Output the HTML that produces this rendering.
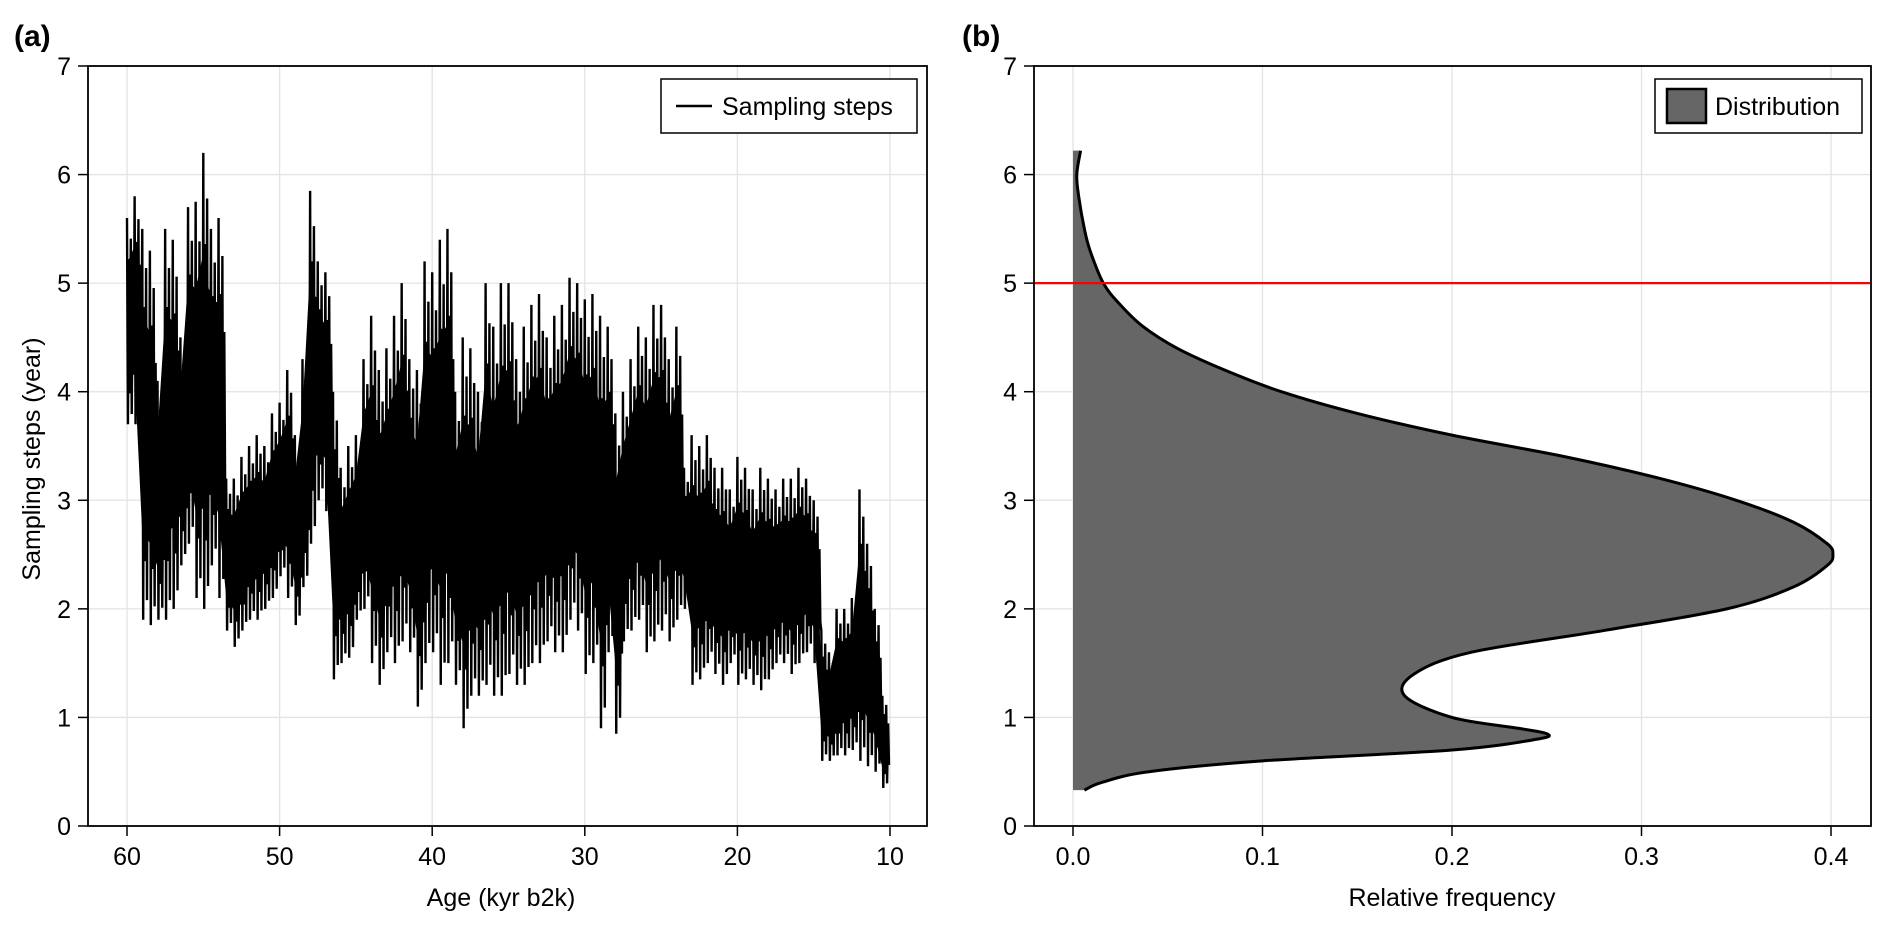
<!DOCTYPE html>
<html><head><meta charset="utf-8">
<style>
html,body{margin:0;padding:0;background:#fff;}
svg{display:block;font-family:"Liberation Sans",sans-serif;}
</style></head>
<body>
<svg id="fig" width="1892" height="928" viewBox="0 0 1892 928" xmlns="http://www.w3.org/2000/svg"></svg>
<script>
// ---- data: panel (a) ----
const ages = [60,59.5,59,58.5,58,57.5,57,56.5,56,55.5,55,54.5,54,53.5,53,52.5,52,51.5,51,50.5,50,49.5,49,48.5,48,47.5,47,46.5,46,45.5,45,44.5,44,43.5,43,42.5,42,41.5,41,40.5,40,39.5,39,38.5,38,37.5,37,36.5,36,35.5,35,34.5,34,33.5,33,32.5,32,31.5,31,30.5,30,29.5,29,28.5,28,27.5,27,26.5,26,25.5,25,24.5,24,23.5,23,22.5,22,21.5,21,20.5,20,19.5,19,18.5,18,17.5,17,16.5,16,15.5,15,14.5,14,13.5,13,12.5,12,11.5,11,10.5];
const hiVals = [5.6,5.8,5.5,5.3,4.1,5.5,5.4,4.5,5.7,5.75,6.2,5.5,5.6,3.2,3.2,3.4,3.5,3.6,3.5,3.8,3.9,4.2,3.6,4.3,5.85,5.2,5.1,4.0,3.3,3.5,3.6,4.3,4.7,4.2,4.4,4.7,5.0,4.3,4.2,5.2,5.1,5.4,5.5,4.0,4.5,4.4,4.0,5.0,4.6,5.0,5.0,4.3,4.6,4.8,4.9,4.5,4.7,4.8,5.05,5.0,4.85,4.9,4.7,4.6,3.8,4.0,4.3,4.6,4.5,4.8,4.8,4.3,4.6,3.3,3.6,3.5,3.6,3.3,3.3,3.1,3.4,3.3,3.1,3.3,3.2,3.1,3.2,3.2,3.3,3.2,3.0,1.8,1.6,2.0,2.0,2.1,3.1,2.6,2.0,1.2];
const loVals = [3.7,3.7,1.9,1.85,1.9,1.9,2.0,2.4,2.6,2.1,2.0,2.4,2.1,1.8,1.65,1.8,1.9,1.9,2.0,2.1,2.3,2.1,1.85,2.2,2.6,3.0,2.9,1.35,1.5,1.55,1.9,2.0,1.5,1.3,1.6,1.5,1.7,1.6,1.1,1.5,1.6,1.3,1.5,1.3,0.9,1.2,1.2,1.3,1.2,1.2,1.4,1.3,1.3,1.5,1.5,1.7,1.6,1.6,1.9,1.8,1.4,1.5,0.9,1.6,0.85,1.7,1.8,1.9,1.6,1.7,1.8,1.7,1.9,2.0,1.3,1.35,1.5,1.4,1.3,1.5,1.3,1.35,1.3,1.25,1.35,1.5,1.5,1.4,1.5,1.6,1.5,0.6,0.6,0.65,0.65,0.7,0.6,0.55,0.5,0.35];
const xTicksA = [60,50,40,30,20,10];
const yTicks = [0,1,2,3,4,5,6,7];
// ---- data: panel (b) ----
const kdeY = [6.22,6.0,5.8,5.5,5.3,5.0,4.8,4.6,4.4,4.2,4.0,3.8,3.6,3.4,3.2,3.0,2.8,2.6,2.5,2.4,2.2,2.0,1.8,1.6,1.4,1.2,1.0,0.9,0.85,0.8,0.7,0.6,0.5,0.4,0.33];
const kdeF = [0.004,0.002,0.003,0.006,0.009,0.016,0.025,0.037,0.055,0.08,0.11,0.15,0.2,0.26,0.31,0.35,0.38,0.398,0.401,0.398,0.38,0.345,0.28,0.21,0.18,0.175,0.2,0.235,0.25,0.245,0.2,0.1,0.04,0.015,0.006];
const xTicksB = [0.0,0.1,0.2,0.3,0.4];
const threshold = 5;

const NS="http://www.w3.org/2000/svg";
const svg=document.getElementById('fig');
function mk(tag,attrs,parent){const e=document.createElementNS(NS,tag);for(const k in attrs)e.setAttribute(k,attrs[k]);(parent||svg).appendChild(e);return e;}

const yTop=66, bot=826;
const yS = v => bot - v*(bot-yTop)/7;
const xA = a => 127 + (60-a)*(890-127)/50;
const xB = f => 1073 + f*(1831-1073)/0.4;
const AL=88, AR=927, BL=1034, BR=1871;
const FS=25;

// ---------- Panel A ----------
const gA=mk('g',{});


xTicksA.forEach(t=>{const l=mk('line',{x1:xA(t),x2:xA(t),y1:yTop,y2:bot,stroke:'#e3e3e3','stroke-width':1.3},gA);

});
yTicks.forEach(t=>{const l=mk('line',{x1:AL,x2:AR,y1:yS(t),y2:yS(t),stroke:'#e3e3e3','stroke-width':1.3},gA);

});
let up=[],dn=[];
for(let i=0;i<ages.length;i++){
  const m=(hiVals[i]+loVals[i])/2, r=hiVals[i]-loVals[i];
  up.push(xA(ages[i])+','+yS(m+r*0.28));
  dn.unshift(xA(ages[i])+','+yS(m-r*0.28));
}
const core=mk('polygon',{points:up.concat(dn).join(' '),fill:'#000'},gA);


let pts=[];
const fr=[[0,1],[0.12,0],[0.25,0.8],[0.37,0.15],[0.5,0.9],[0.62,0.05],[0.75,0.7],[0.87,0.25]];
for(let i=0;i<ages.length;i++){
  const step=(i<ages.length-1)?(ages[i]-ages[i+1]):0.5;
  fr.forEach(([f,k])=>{
    pts.push(xA(ages[i]-step*f)+','+yS(loVals[i]+(hiVals[i]-loVals[i])*k));
  });
}
const ser=mk('polyline',{points:pts.join(' '),fill:'none',stroke:'#000','stroke-width':2.4,'stroke-linejoin':'miter'},gA);


mk('rect',{x:AL,y:yTop,width:AR-AL,height:bot-yTop,fill:'none',stroke:'#000','stroke-width':1.8},gA);
xTicksA.forEach(t=>{mk('line',{x1:xA(t),x2:xA(t),y1:bot,y2:bot+10,stroke:'#000','stroke-width':1.5},gA);
const tx=mk('text',{x:xA(t),y:bot+39,'text-anchor':'middle','font-size':FS},gA);tx.textContent=t;

});
yTicks.forEach(t=>{mk('line',{x1:AL-10,x2:AL,y1:yS(t),y2:yS(t),stroke:'#000','stroke-width':1.5},gA);
const tx=mk('text',{x:AL-17,y:yS(t)+9,'text-anchor':'end','font-size':FS},gA);tx.textContent=t;

});
let t1=mk('text',{x:501,y:906,'text-anchor':'middle','font-size':FS},gA);t1.textContent='Age (kyr b2k)';


let t2=mk('text',{x:0,y:0,'text-anchor':'middle','font-size':FS,transform:'translate(40,459) rotate(-90)'},gA);t2.textContent='Sampling steps (year)';


let t3=mk('text',{x:14,y:46,'font-size':30,'font-weight':'bold'},gA);t3.textContent='(a)';


const legA=mk('g',{},gA);


mk('rect',{x:661,y:79,width:256,height:54,fill:'#fff',stroke:'#000','stroke-width':1.5},legA);
mk('line',{x1:676,x2:712,y1:106,y2:106,stroke:'#000','stroke-width':2.5},legA);
let t4=mk('text',{x:722,y:115,'font-size':FS},legA);t4.textContent='Sampling steps';

// ---------- Panel B ----------
const gB=mk('g',{});


xTicksB.forEach(t=>{const l=mk('line',{x1:xB(t),x2:xB(t),y1:yTop,y2:bot,stroke:'#e3e3e3','stroke-width':1.3},gB);

});
yTicks.forEach(t=>{const l=mk('line',{x1:BL,x2:BR,y1:yS(t),y2:yS(t),stroke:'#e3e3e3','stroke-width':1.3},gB);

});
const P=kdeY.map((y,i)=>[xB(kdeF[i]),yS(y)]);
let d='M'+P[0][0]+','+P[0][1];
for(let i=0;i<P.length-1;i++){
  const p0=P[Math.max(0,i-1)],p1=P[i],p2=P[i+1],p3=P[Math.min(P.length-1,i+2)];
  const c1=[p1[0]+(p2[0]-p0[0])/6,p1[1]+(p2[1]-p0[1])/6];
  const c2=[p2[0]-(p3[0]-p1[0])/6,p2[1]-(p3[1]-p1[1])/6];
  d+=' C'+c1[0]+','+c1[1]+' '+c2[0]+','+c2[1]+' '+p2[0]+','+p2[1];
}
const area=mk('path',{d:d+' L'+xB(0)+','+P[P.length-1][1]+' L'+xB(0)+','+P[0][1]+' Z',fill:'#666666',stroke:'none'},gB);


const curve=mk('path',{d:d,fill:'none',stroke:'#000','stroke-width':3,'stroke-linejoin':'round'},gB);


const red=mk('line',{x1:BL,x2:BR,y1:yS(threshold),y2:yS(threshold),stroke:'#ff0000','stroke-width':2.2},gB);


mk('rect',{x:BL,y:yTop,width:BR-BL,height:bot-yTop,fill:'none',stroke:'#000','stroke-width':1.8},gB);
xTicksB.forEach(t=>{mk('line',{x1:xB(t),x2:xB(t),y1:bot,y2:bot+10,stroke:'#000','stroke-width':1.5},gB);
const tx=mk('text',{x:xB(t),y:bot+39,'text-anchor':'middle','font-size':FS},gB);tx.textContent=t.toFixed(1);

});
yTicks.forEach(t=>{mk('line',{x1:BL-10,x2:BL,y1:yS(t),y2:yS(t),stroke:'#000','stroke-width':1.5},gB);
const tx=mk('text',{x:BL-17,y:yS(t)+9,'text-anchor':'end','font-size':FS},gB);tx.textContent=t;

});
let t5=mk('text',{x:1452,y:906,'text-anchor':'middle','font-size':FS},gB);t5.textContent='Relative frequency';


let t6=mk('text',{x:962,y:46,'font-size':30,'font-weight':'bold'},gB);t6.textContent='(b)';


const legB=mk('g',{},gB);


mk('rect',{x:1655,y:79,width:207,height:54,fill:'#fff',stroke:'#000','stroke-width':1.5},legB);
mk('rect',{x:1667,y:89,width:39,height:34,fill:'#666',stroke:'#000','stroke-width':2.5},legB);
let t7=mk('text',{x:1715,y:115,'font-size':FS},legB);t7.textContent='Distribution';
</script>
</body></html>
